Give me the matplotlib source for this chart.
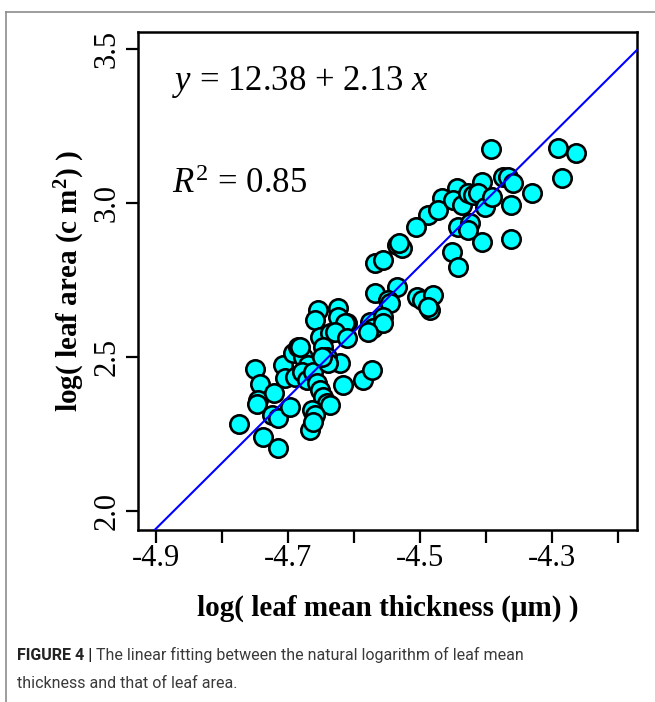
import matplotlib
matplotlib.use("Agg")
import matplotlib.pyplot as plt
import numpy as np

# -------------------------------------------------------------------------
# Data
# -------------------------------------------------------------------------
log_thickness = [
    -4.393, -4.291, -4.264, -4.285, -4.331, -4.362, -4.362, -4.406, -4.375, -4.367,
    -4.359, -4.406, -4.444, -4.467, -4.488, -4.473, -4.450, -4.437, -4.428, -4.420,
    -4.412, -4.402, -4.391, -4.443, -4.425, -4.428, -4.452, -4.507, -4.535, -4.528,
    -4.532, -4.569, -4.557, -4.443, -4.569, -4.535, -4.549, -4.546, -4.505, -4.497,
    -4.481, -4.485, -4.488, -4.576, -4.572, -4.557, -4.557, -4.579, -4.611, -4.751,
    -4.743, -4.746, -4.748, -4.722, -4.775, -4.739, -4.716, -4.724, -4.716, -4.698,
    -4.708, -4.705, -4.690, -4.693, -4.686, -4.678, -4.670, -4.679, -4.672, -4.663,
    -4.657, -4.652, -4.648, -4.642, -4.637, -4.664, -4.660, -4.667, -4.663, -4.622,
    -4.617, -4.587, -4.573, -4.655, -4.625, -4.660, -4.625, -4.614, -4.652, -4.637,
    -4.629, -4.611, -4.648, -4.642, -4.640, -4.649, -4.682,
]
log_area = [
    3.174, 3.177, 3.161, 3.080, 3.031, 2.992, 2.881, 2.872, 3.083, 3.083,
    3.063, 3.067, 3.047, 3.015, 2.959, 2.976, 3.008, 2.992, 3.031, 3.024,
    3.031, 2.985, 3.018, 2.920, 2.933, 2.911, 2.839, 2.920, 2.862, 2.852,
    2.869, 2.804, 2.813, 2.791, 2.706, 2.726, 2.683, 2.674, 2.693, 2.683,
    2.700, 2.651, 2.661, 2.612, 2.593, 2.628, 2.609, 2.580, 2.609, 2.459,
    2.411, 2.359, 2.346, 2.381, 2.281, 2.239, 2.203, 2.310, 2.300, 2.336,
    2.472, 2.430, 2.433, 2.511, 2.531, 2.498, 2.472, 2.450, 2.424, 2.450,
    2.414, 2.391, 2.369, 2.349, 2.343, 2.326, 2.310, 2.261, 2.287, 2.479,
    2.407, 2.424, 2.456, 2.651, 2.657, 2.619, 2.628, 2.609, 2.563, 2.576,
    2.580, 2.560, 2.531, 2.498, 2.479, 2.498, 2.531,
]

intercept = 12.38
slope = 2.13
r_squared = 0.85

x_ticks = [-4.9, -4.8, -4.7, -4.6, -4.5, -4.4, -4.3, -4.2]
x_ticklabels = ["-4.9", "", "-4.7", "", "-4.5", "", "-4.3", ""]
y_ticks = [2.0, 2.5, 3.0, 3.5]
y_ticklabels = ["2.0", "2.5", "3.0", "3.5"]

caption_bold = "FIGURE 4 |"
caption_line1 = " The linear fitting between the natural logarithm of leaf mean"
caption_line2 = "thickness and that of leaf area."

# -------------------------------------------------------------------------
# Style
# -------------------------------------------------------------------------
plt.rcParams["font.family"] = ["Liberation Serif", "DejaVu Serif"]
plt.rcParams["mathtext.fontset"] = "custom"
plt.rcParams["mathtext.rm"] = "Liberation Serif"
plt.rcParams["mathtext.it"] = "Liberation Serif:italic"
plt.rcParams["mathtext.bf"] = "Liberation Serif:bold"

fig = plt.figure(figsize=(6.55, 7.02), dpi=100)
ax = fig.add_axes([0.2107, 0.245, 0.7618, 0.7094])

ax.scatter(log_thickness, log_area, s=175, facecolor="#00FFFF",
           edgecolor="black", linewidth=1.9, zorder=3)

xlim = (-4.928, -4.171)
xs = np.array(xlim)
ax.plot(xs, intercept + slope * xs, color="#0000FF", linewidth=1.5, zorder=4)

ax.set_xlim(*xlim)
ax.set_ylim(1.937, 3.554)

ax.set_xticks(x_ticks)
ax.set_xticklabels(x_ticklabels)
ax.set_yticks(y_ticks)
ax.set_yticklabels(y_ticklabels, rotation=90, va="center")
ax.tick_params(axis="both", direction="out", length=9, width=1.6,
               labelsize=22)
ax.tick_params(axis="x", pad=1)
ax.tick_params(axis="y", pad=3)

for sp in ax.spines.values():
    sp.set_linewidth(1.8)

ax.set_xlabel("log( leaf mean thickness (\u03bcm) )", fontsize=21,
              fontweight="bold", labelpad=16)
ax.set_ylabel(r"log( leaf area (c m$^{\mathbf{2}}$) )", fontsize=21,
              fontweight="bold", labelpad=4)

ax.text(0.068, 0.900, r"$y$ = %.2f + %.2f $x$" % (intercept, slope),
        transform=ax.transAxes, fontsize=25, va="center", ha="left")
ax.text(0.068, 0.693, r"$R^{\mathrm{2}}$ = %.2f" % r_squared,
        transform=ax.transAxes, fontsize=25, va="center", ha="left")

# frame around the figure panel
fig.add_artist(plt.Line2D([6 / 655, 6 / 655], [0, 1 - 12 / 702],
                          color="#8c8c8c", linewidth=1.2))
fig.add_artist(plt.Line2D([6 / 655, 1], [1 - 12 / 702, 1 - 12 / 702],
                          color="#8c8c8c", linewidth=1.2))

# caption
cap_font = ["Roboto", "DejaVu Sans"]
t = fig.text(17 / 655, 1 - 655 / 702, caption_bold, fontsize=11.5,
             fontweight="bold", family=cap_font, color="#222222", va="center")
fig.canvas.draw()
bb = t.get_window_extent()
fig.text(bb.x1 / fig.bbox.width, 1 - 655 / 702, caption_line1, fontsize=11.5,
         family=cap_font, color="#3a3a3a", va="center")
fig.text(17 / 655, 1 - 684 / 702, caption_line2, fontsize=11.5,
         family=cap_font, color="#3a3a3a", va="center")

fig.savefig("out.png", dpi=100)
